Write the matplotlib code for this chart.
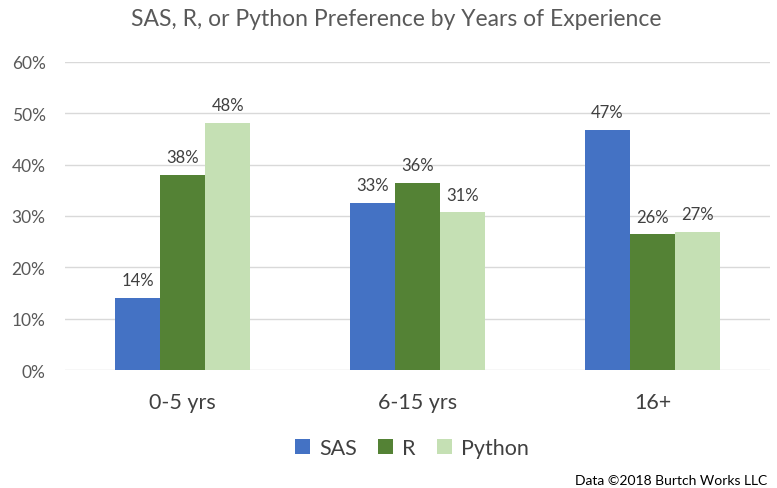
import matplotlib.pyplot as plt
import numpy as np

plt.rcParams['font.family'] = ['Lato', 'DejaVu Sans']

categories = ['0-5 yrs', '6-15 yrs', '16+']
sas = [14.0, 32.6, 46.8]
r_vals = [38.0, 36.4, 26.4]
python = [48.2, 30.7, 26.9]
series = [('SAS', sas, '#4472C4'), ('R', r_vals, '#548235'), ('Python', python, '#C5E0B4')]
yticks = [0, 10, 20, 30, 40, 50, 60]

fig = plt.figure(figsize=(7.77, 4.89), dpi=100)
ax = fig.add_axes([0.0837, 0.2413, 0.9073, 0.6299])

x = np.arange(len(categories))
w = 0.192
for i, (name, vals, col) in enumerate(series):
    bars = ax.bar(x + (i - 1) * w, vals, w, color=col, label=name, zorder=3)
    ax.bar_label(bars, labels=[f'{v:.0f}%' for v in vals], padding=7,
                 fontsize=12, color='#404040')

ax.set_xlim(-0.5, 2.5)
ax.set_ylim(0, 60)
ax.set_yticks(yticks)
ax.set_yticklabels([f'{t}%' for t in yticks])
ax.set_xticks(x)
ax.set_xticklabels(categories)
ax.tick_params(axis='y', length=0, pad=14, labelsize=12.5, labelcolor='#595959')
ax.tick_params(axis='x', length=0, pad=16, labelsize=15.5, labelcolor='#404040')
ax.grid(axis='y', color='#D9D9D9', linewidth=1, zorder=0)
for s in ax.spines.values():
    s.set_visible(False)

fig.text(396 / 777, 1 - 20 / 489, 'SAS, R, or Python Preference by Years of Experience',
         fontsize=16.5, color='#595959', ha='center', va='center')

fig.legend(loc='center', bbox_to_anchor=(412 / 777, 1 - 449 / 489), ncol=3,
           frameon=False, fontsize=15.5, handlelength=0.7, handleheight=0.7,
           handletextpad=0.4, columnspacing=1.0, labelcolor='#404040')

fig.text(575 / 777, 1 - 481 / 489, 'Data ©2018 Burtch Works LLC', fontsize=10,
         color='black', ha='left', va='center')

fig.savefig('out.png', dpi=100)
